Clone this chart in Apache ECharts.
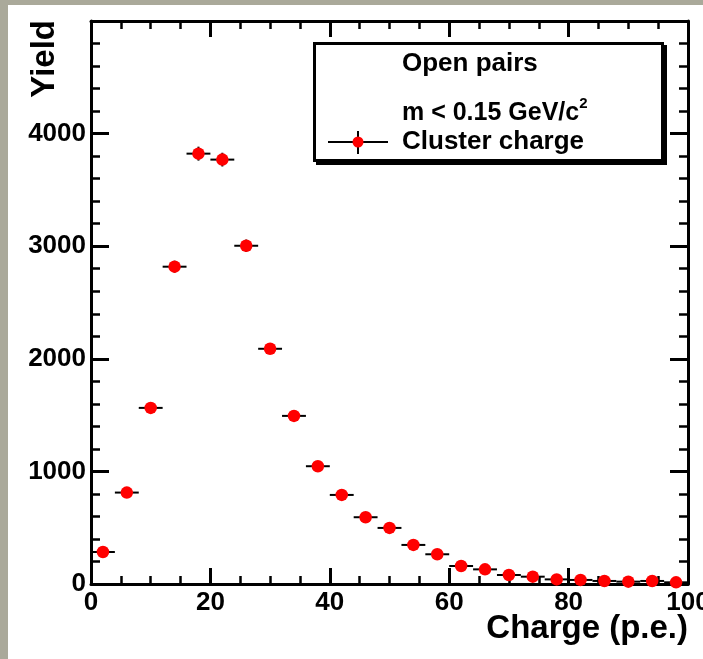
<!DOCTYPE html>
<html>
<head>
<meta charset="utf-8">
<script src="https://cdn.jsdelivr.net/npm/echarts@6/dist/echarts.min.js"></script>
<style>
html,body{margin:0;padding:0;background:#aaa99a;}
#wrap{position:relative;width:703px;height:659px;background:#aaa99a;overflow:hidden;}
#paper{position:absolute;left:8px;top:5px;right:0;bottom:0;background:#ffffff;}
#chart{position:absolute;left:0;top:0;width:703px;height:659px;}
</style>
</head>
<body>
<div id="wrap"><div id="paper"></div><div id="chart"></div></div>
<script>
// ---- data ----
var binCenters = [2, 6, 10, 14, 18, 22, 26, 30, 34, 38, 42, 46, 50, 54, 58, 62, 66, 70, 74, 78, 82, 86, 90, 94, 98];
var yieldValues = [284, 812, 1564, 2818, 3822, 3769, 3004, 2089, 1493, 1046, 791, 593, 498, 347, 264, 160, 130, 80, 65, 41, 36, 27, 21, 27, 15];
var yieldErrors = [17, 28, 40, 53, 62, 61, 55, 46, 39, 32, 28, 24, 22, 19, 16, 13, 11, 9, 8, 6, 6, 5, 5, 5, 4];
var binHalfWidth = 2;
var xTicks = [0, 20, 40, 60, 80, 100];
var yTicks = [0, 1000, 2000, 3000, 4000];
var xTitle = 'Charge (p.e.)';
var yTitle = 'Yield';
var legendTitle1 = 'Open pairs';
var legendTitle2 = 'm < 0.15 GeV/c';
var legendEntry = 'Cluster charge';

var FONT = '"Liberation Sans", Arial, Helvetica, sans-serif';
var points = binCenters.map(function (x, i) { return [x, yieldValues[i]]; });
var errs = binCenters.map(function (x, i) { return [x, yieldValues[i], yieldErrors[i]]; });

function axisCommon(showLabels, pos, isX) {
  return {
    type: 'value',
    position: pos,
    min: isX ? xTicks[0] : yTicks[0],
    max: isX ? 100 : 5000,
    interval: isX ? 20 : 1000,
    axisLine: { show: true, onZero: false, lineStyle: { color: '#000', width: 3 } },
    axisTick: { show: true, inside: true, length: isX ? 16 : 18, lineStyle: { color: '#000', width: 3 } },
    minorTick: { show: true, splitNumber: isX ? 4 : 5, length: isX ? 8 : 9, lineStyle: { color: '#000', width: 2.5 } },
    splitLine: { show: false },
    minorSplitLine: { show: false },
    axisLabel: showLabels ? {
      show: true,
      color: '#000',
      fontFamily: FONT,
      fontWeight: 'bold',
      fontSize: 26,
      margin: isX ? 6 : 5,
      showMaxLabel: isX ? true : false,
      hideOverlap: false,
      formatter: function (v) { return String(v); }
    } : { show: false }
  };
}

var chart = echarts.init(document.getElementById('chart'), null, { renderer: 'canvas' });
chart.setOption({
  animation: false,
  backgroundColor: 'transparent',
  grid: { left: 91, right: 15, top: 21, bottom: 75, containLabel: false, outerBoundsMode: 'none' },
  xAxis: [axisCommon(true, 'bottom', true), axisCommon(false, 'top', true)],
  yAxis: [axisCommon(true, 'left', false), axisCommon(false, 'right', false)],
  graphic: [
    { type: 'text', x: 688, y: 629, silent: true,
      style: { text: xTitle, fill: '#000', font: 'bold 33px ' + FONT, textAlign: 'right', textVerticalAlign: 'middle' } },
    { type: 'text', x: 45, y: 20, rotation: Math.PI / 2, silent: true,
      style: { text: yTitle, fill: '#000', font: 'bold 33px ' + FONT, textAlign: 'right', textVerticalAlign: 'middle' } },
    // legend box: shadow + box
    { type: 'rect', silent: true, z: 50, shape: { x: 316, y: 45, width: 351, height: 120 }, style: { fill: '#000' } },
    { type: 'rect', silent: true, z: 51, shape: { x: 314.5, y: 43.5, width: 348, height: 117 }, style: { fill: '#fff', stroke: '#000', lineWidth: 3 } },
    { type: 'text', silent: true, z: 52, x: 402, y: 64,
      style: { text: legendTitle1, fill: '#000', font: 'bold 26px ' + FONT, textAlign: 'left', textVerticalAlign: 'middle' } },
    { type: 'text', silent: true, z: 52, x: 402, y: 111,
      style: { text: '{t|' + legendTitle2 + '}{s|2}', textAlign: 'left', textVerticalAlign: 'middle',
        rich: {
          t: { fill: '#000', font: 'bold 25px ' + FONT, lineHeight: 30, verticalAlign: 'bottom' },
          s: { fill: '#000', font: 'bold 15px ' + FONT, lineHeight: 30, verticalAlign: 'top' }
        } } },
    { type: 'text', silent: true, z: 52, x: 402, y: 142,
      style: { text: legendEntry, fill: '#000', font: 'bold 26px ' + FONT, textAlign: 'left', textVerticalAlign: 'middle' } },
    { type: 'line', silent: true, z: 52, shape: { x1: 328, y1: 142, x2: 388, y2: 142 }, style: { stroke: '#000', lineWidth: 2 } },
    { type: 'line', silent: true, z: 52, shape: { x1: 358, y1: 131, x2: 358, y2: 154 }, style: { stroke: '#000', lineWidth: 2 } },
    { type: 'circle', silent: true, z: 53, shape: { cx: 358, cy: 142, r: 5.5 }, style: { fill: '#ff0000' } }
  ],
  series: [
    {
      type: 'custom',
      xAxisIndex: 0, yAxisIndex: 0,
      data: errs,
      encode: { x: 0, y: 1 },
      clip: false,
      z: 3,
      renderItem: function (params, api) {
        var x = api.value(0), y = api.value(1), e = api.value(2);
        var l = api.coord([x - binHalfWidth, y]);
        var r = api.coord([x + binHalfWidth, y]);
        var t = api.coord([x, y + e]);
        var b = api.coord([x, Math.max(0, y - e)]);
        return {
          type: 'group',
          children: [
            { type: 'line', shape: { x1: l[0], y1: l[1], x2: r[0], y2: r[1] }, style: { stroke: '#000', lineWidth: 2 } },
            { type: 'line', shape: { x1: t[0], y1: t[1], x2: b[0], y2: b[1] }, style: { stroke: '#000', lineWidth: 2 } }
          ]
        };
      }
    },
    {
      type: 'scatter',
      xAxisIndex: 0, yAxisIndex: 0,
      data: points,
      symbol: 'circle',
      symbolSize: 12.5,
      itemStyle: { color: '#ff0000', opacity: 1 },
      z: 4
    }
  ]
});
</script>
</body>
</html>
